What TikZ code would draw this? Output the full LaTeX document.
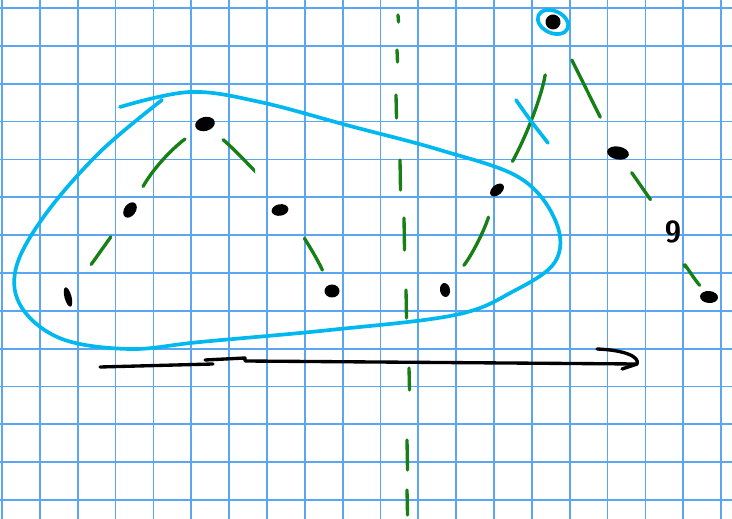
\documentclass[tikz,border=0pt]{standalone}
\usepackage{tikz}
\usetikzlibrary{shapes.geometric, arrows, positioning, calc}
\definecolor{gridblue}{RGB}{90,166,242}
\definecolor{loopcyan}{RGB}{0,184,240}
\definecolor{edgegreen}{RGB}{22,128,22}
\tikzset{
  blob/.style 2 args={ellipse, fill=black, inner sep=0pt, minimum width=#1, minimum height=#2},
  gridline/.style={draw=gridblue, line width=1pt},
  gedge/.style={draw=edgegreen, line width=1.9pt, line cap=round},
  loopline/.style={draw=loopcyan, line width=2.1pt, line cap=round},
  penline/.style={draw=black, line width=1.9pt, line cap=round, line join=round}
}

\begin{document}
\begin{tikzpicture}[x=0.02cm, y=-0.02cm]
  \useasboundingbox (0,0) rectangle (732,519);
  \fill[white] (0,0) rectangle (732,519);
  % grid paper
  \foreach \k in {0,...,19} \draw[gridline] ({2+37.85*\k},0) -- ({2+37.85*\k},519);
  \foreach \k in {0,...,13} \draw[gridline] (0,{8+37.85*\k}) -- (732,{8+37.85*\k});

  % left tree
  \node (r) [blob={0.4cm}{0.28cm}, rotate=15] at (205,124) {};
  \node (a) [blob={0.34cm}{0.23cm}, rotate=55] at (130,210) {};
  \node (b) [blob={0.34cm}{0.23cm}, rotate=10] at (280,210) {};
  \node (c) [blob={0.14cm}{0.4cm}, rotate=15] at (68,297) {};
  \node (d) [blob={0.3cm}{0.26cm}] at (332,291) {};
  % right tree
  \node (p) [blob={0.3cm}{0.3cm}, rotate=30] at (553,22) {};
  \node (e) [blob={0.32cm}{0.2cm}, rotate=40] at (497,190) {};
  \node (f) [blob={0.2cm}{0.28cm}, rotate=10] at (445,290) {};
  \node (g) [blob={0.44cm}{0.26cm}, rotate=-10] at (618,153) {};
  \node (h) at (673,232) {\sffamily\bfseries\LARGE 9};
  \node (i) [blob={0.36cm}{0.24cm}, rotate=-5] at (709,297) {};

  % edges
  \draw[gedge, shorten <=0.5cm, shorten >=0.54cm] (r.center) to[bend right=12] (a.center);
  \draw[gedge, shorten <=0.48cm, shorten >=0.98cm] (r.center) to[bend left=8] (b.center);
  \draw[gedge, shorten <=0.66cm, shorten >=0.8cm] (a.center) -- (c.center);
  \draw[gedge, shorten <=0.75cm, shorten >=0.46cm] (b.center) to[bend left=8] (d.center);
  \draw[gedge, shorten <=1.07cm, shorten >=0.65cm] (p.center) to[bend left=10] (e.center);
  \draw[gedge, shorten <=0.57cm, shorten >=0.62cm] (e.center) to[bend left=10] (f.center);
  \draw[gedge, shorten <=0.85cm, shorten >=0.8cm] (p.center) -- (g.center);
  \draw[gedge, shorten <=0.48cm, shorten >=0.79cm] (g.center) -- (h.center);
  \draw[gedge, shorten <=0.74cm, shorten >=0.3cm] (h.center) to[bend right=10] (i.center);

  % dashed divider
  \foreach \x/\ya/\yb in {398/15/22, 397/50/62, 396/95/118, 400/160/190, 404/218/250,
                          406/290/318, 409/368/390, 407/440/470, 407/490/515}
    \draw[gedge] (\x,\ya) -- (\x+0.5,\yb);

  % blue loop around the left tree and e, f
  \draw[loopline] plot[smooth, tension=0.6] coordinates {(120,107) (190,92) (260,102) (350,126)
    (440,150) (520,178) (556,222) (555,262) (512,292) (455,315) (330,330) (200,342) (130,349)
    (62,339) (22,308) (16,268) (45,215) (100,152) (162,100)};
  \draw[loopline] (p.center) ellipse [x radius=16, y radius=11, rotate=-25];
  \draw[loopline] (516,100) .. controls (530,120) .. (548,143);

  % time arrow
  \coordinate (t0) at (100,367);
  \coordinate (t1) at (637,364);
  \draw[penline] (t0) -- (213,364);
  \draw[penline] (205,360) -- (245,358) -- (245,361) -- (t1);
  \draw[penline] (597,349) .. controls (625,350) and (640,357) .. (t1) -- (622,369);
\end{tikzpicture}
\end{document}
